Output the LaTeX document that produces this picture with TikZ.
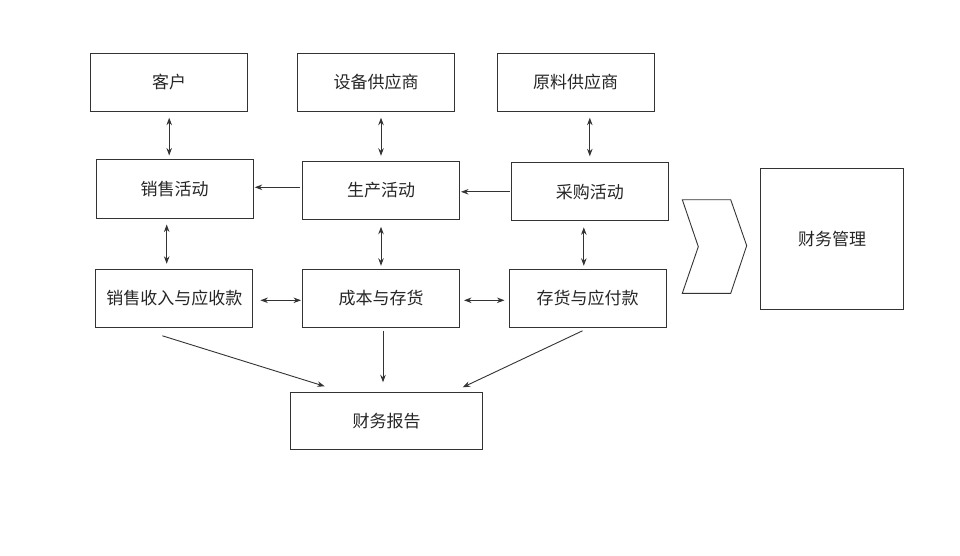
\documentclass[tikz,border=0pt]{standalone}
\usepackage{fontspec}
\setmainfont{Noto Sans CJK SC}
\usetikzlibrary{shapes,arrows.meta,positioning}

\begin{document}
\begin{tikzpicture}[x=1pt, y=-1pt, >={Stealth[length=7.5pt,width=5.5pt]},
  every node/.style={font=\fontsize{17}{20}\selectfont, text=black!85},
  box/.style={draw=black!80, line width=1pt, rectangle, minimum width=157, minimum height=58, inner sep=0pt},
  link/.style={draw=black!80, line width=0.9pt}]
\useasboundingbox[fill=white] (0,0) rectangle (960,556);
\node[box] (kehu) at (169.2,82.2) {客户};
\node[box] (shebei) at (376,82.2) {设备供应商};
\node[box] (yuanliao) at (575.5,82.2) {原料供应商};
\node[box] (xiaoshou) at (174.7,189) {销售活动};
\node[box] (shengchan) at (381,190.3) {生产活动};
\node[box] (caigou) at (589.8,191.8) {采购活动};
\node[box] (shouru) at (174.4,298.3) {销售收入与应收款};
\node[box] (chengben) at (381,298.3) {成本与存货};
\node[box] (yingfu) at (587.5,298.3) {存货与应付款};
\node[box, minimum width=192, minimum height=57] (baogao) at (386.7,421.3) {财务报告};
\node[box, minimum width=143, minimum height=141] (guanli) at (832,239) {财务管理};
\draw[link] (682.3,199.7) -- (730.7,199.7) -- (746.7,245.7) -- (730.7,293.3) -- (682.3,293.3) -- (698.3,246.7) -- cycle;
\draw[link, <->, shorten <=6pt, shorten >=4pt] (kehu.south) -- (kehu.south |- xiaoshou.north);
\draw[link, <->, shorten <=6pt, shorten >=5pt] (shengchan.north |- shebei.south) -- (shengchan.north);
\draw[link, <->, shorten <=6pt, shorten >=6pt] (caigou.north |- yuanliao.south) -- (caigou.north);
\draw[link, ->, shorten <=2pt, shorten >=1pt] ([yshift=3pt]shengchan.west) -- ([yshift=3pt]shengchan.west -| xiaoshou.east);
\draw[link, ->, shorten <=1pt, shorten >=1pt] (caigou.west) -- (caigou.west -| shengchan.east);
\draw[link, <->, shorten <=6pt, shorten >=5pt] ([xshift=-8pt]xiaoshou.south) -- ([xshift=-8pt]xiaoshou.south |- shouru.north);
\draw[link, <->, shorten <=7pt, shorten >=3pt] (shengchan.south) -- (shengchan.south |- chengben.north);
\draw[link, <->, shorten <=6pt, shorten >=3pt] ([xshift=-6pt]caigou.south) -- ([xshift=-6pt]caigou.south |- yingfu.north);
\draw[link, <->, shorten <=7pt, shorten >=1pt] ([yshift=-2pt]shouru.east) -- ([yshift=-2pt]chengben.west);
\draw[link, <->, shorten <=4pt, shorten >=4pt] ([yshift=-2pt]chengben.east) -- ([yshift=-2pt]yingfu.west);
\draw[link, ->] ([shift={(-12,8)}]shouru.south) -- ([shift={(-62,-6)}]baogao.north);
\draw[link, ->, shorten <=3pt, shorten >=10pt] ([xshift=2pt]chengben.south) -- ([xshift=2pt]chengben.south |- baogao.north);
\draw[link, ->] ([shift={(-5,3)}]yingfu.south) -- ([shift={(76,-5)}]baogao.north);
\end{tikzpicture}
\end{document}
